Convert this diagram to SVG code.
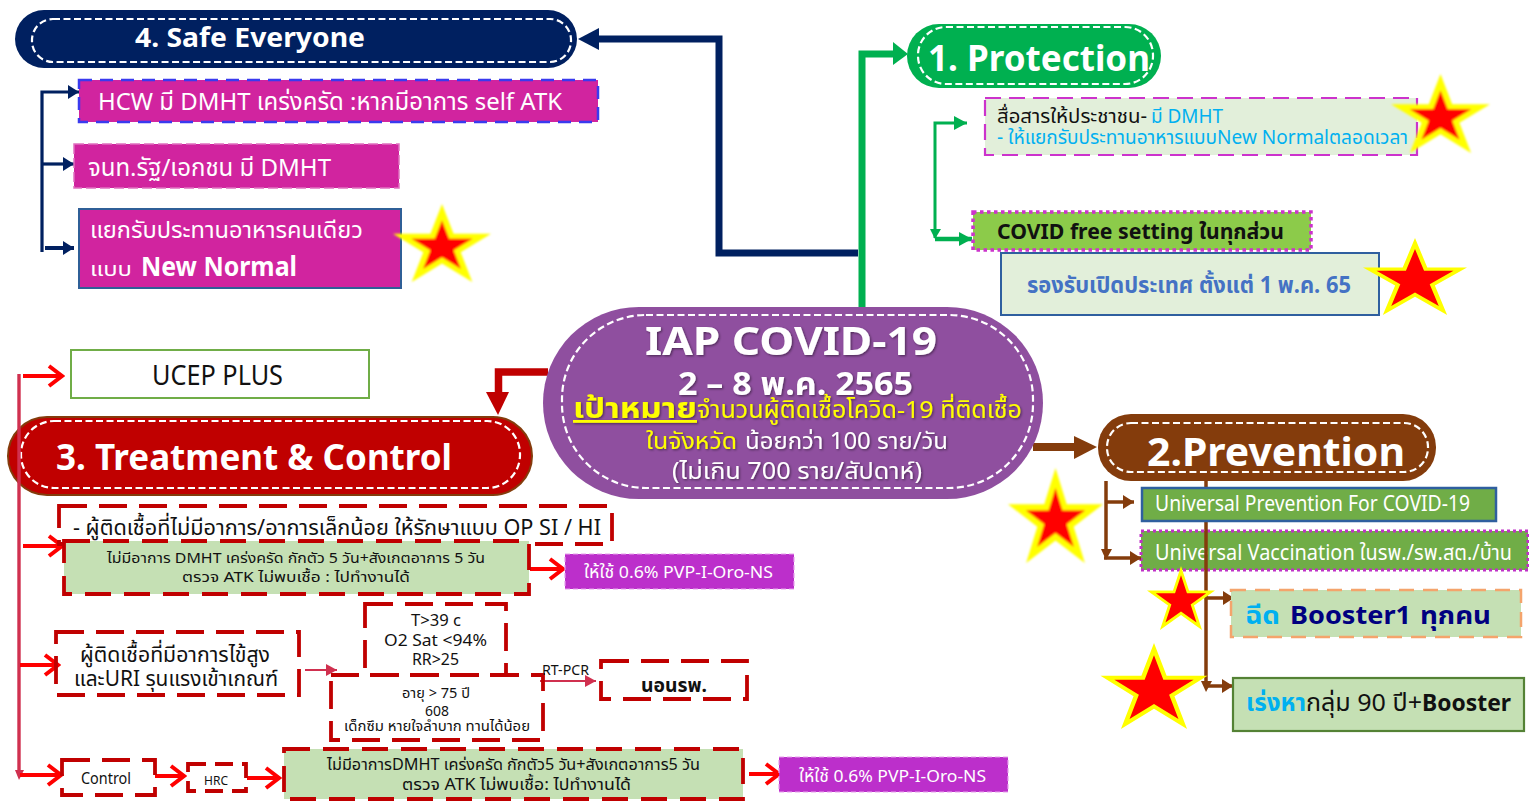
<svg xmlns="http://www.w3.org/2000/svg" xmlns:xlink="http://www.w3.org/1999/xlink" width="1529" height="811" viewBox="0 0 1529 811">
<style>
text{font-family:"Noto Sans","Noto Sans Thai","Liberation Sans","DejaVu Sans",sans-serif;fill:#111}
.w{fill:#fff}.b{font-weight:700}.y{fill:#ff0}.c{fill:#00b0f0}
.sh{filter:url(#ts)}
.in{fill:none;stroke:#fff;stroke-width:2.2;stroke-dasharray:7 3.5}
.rd{fill:none;stroke:#c00000;stroke-width:3.8;stroke-dasharray:28 12}
.rg{fill:#c5e0b4;stroke:#c00000;stroke-width:3.8;stroke-dasharray:26 13}
.mg{fill:#bc2fcb;stroke:#e8a0ee;stroke-width:1.2;stroke-dasharray:5 3}
.pk{fill:#d1249f}
.ar{fill:none;stroke:#f00;stroke-width:4}
.ln{fill:none;stroke-linejoin:miter}
</style>
<defs>
<filter id="ts" x="-5%" y="-20%" width="110%" height="140%"><feDropShadow dx="1.200" dy="1.200" stdDeviation=".8" flood-color="#000" flood-opacity=".45"/></filter>
<filter id="soft" x="-10%" y="-10%" width="120%" height="120%"><feGaussianBlur stdDeviation=".9"/></filter>
<polygon id="st" points="0,0 .118,.382 .5,.382 .191,.618 .309,1 0,.764 -.309,1 -.191,.618 -.5,.382 -.118,.382"/>
<g id="starA"><use xlink:href="#st" href="#st" fill="#ff0"/><use xlink:href="#st" href="#st" fill="#f00" transform="translate(0,.553) scale(.62) translate(0,-.553)"/></g>
<g id="starB"><use xlink:href="#st" href="#st" fill="#ff0"/><use xlink:href="#st" href="#st" fill="#f00" transform="translate(0,.553) scale(.74) translate(0,-.553)"/></g>
<marker id="op" markerUnits="userSpaceOnUse" markerWidth="18" markerHeight="26" refX="15" refY="13" orient="auto"><path d="M2 3L15 13L2 23" fill="none" stroke="#f00" stroke-width="4"/></marker>
<marker id="pk" markerUnits="userSpaceOnUse" markerWidth="12" markerHeight="14" refX="11" refY="7" orient="auto"><path d="M0 1L11 7L0 13z" fill="#d0304f"/></marker>
<marker id="nv" markerUnits="userSpaceOnUse" markerWidth="12" markerHeight="16" refX="11" refY="8" orient="auto"><path d="M0 1L11 8L0 15z" fill="#002060"/></marker>
<marker id="gr" markerUnits="userSpaceOnUse" markerWidth="14" markerHeight="16" refX="13" refY="8" orient="auto"><path d="M0 1L13 8L0 15z" fill="#00b050"/></marker>
<marker id="br" markerUnits="userSpaceOnUse" markerWidth="12" markerHeight="16" refX="11" refY="8" orient="auto"><path d="M0 1L11 8L0 15z" fill="#843c0c"/></marker>
</defs>

<g id="n-vaccination"><rect x="1141" y="531" width="387" height="39" fill="#70ad47" stroke="#c030c8" stroke-width="3" stroke-dasharray="3 3"/><text class="w" x="1155" y="560" font-size="22" textLength="357" lengthAdjust="spacingAndGlyphs">Universal Vaccination ในรพ./รพ.สต./บ้าน</text></g>
<g id="n-treat"><rect x="8" y="417" width="524" height="78" rx="39" fill="#c00000" stroke="#843c0c" stroke-width="2"/><rect class="in" x="21" y="421" width="499" height="67" rx="33"/><text class="w b" x="56" y="470" font-size="36" textLength="396" lengthAdjust="spacingAndGlyphs">3. Treatment &amp; Control</text></g>

<g id="connectors">
<path class="ln" d="M862 310V54H895" stroke="#00b050" stroke-width="7"/><path d="M893 42L908 54L893 65z" fill="#00b050"/>
<path class="ln" d="M858 253H719V39H597" stroke="#002060" stroke-width="7"/><path d="M578 39L599 28V50z" fill="#002060"/>
<path class="ln" d="M548 372H498.500V394" stroke="#c00000" stroke-width="7.500"/><path d="M486 392H509L498 415z" fill="#c00000"/>
<path class="ln" d="M1033 447H1076" stroke="#843c0c" stroke-width="8"/><path d="M1074 436L1097 447L1074 459z" fill="#843c0c"/>
<path class="ln" d="M42 252V92H79" stroke="#002060" stroke-width="3.200" marker-end="url(#nv)"/>
<path class="ln" d="M42 164H74" stroke="#002060" stroke-width="3.200" marker-end="url(#nv)"/>
<path class="ln" d="M45 248H74" stroke="#002060" stroke-width="4" marker-end="url(#nv)"/>
<path class="ln" d="M935 238V123H967" stroke="#00b050" stroke-width="3" marker-end="url(#gr)"/>
<path class="ln" d="M935 239H972" stroke="#00b050" stroke-width="4.500" marker-end="url(#gr)"/>
<path d="M930 229H941L935 239z" fill="#00b050"/>
<path class="ln" d="M1106 481V552" stroke="#843c0c" stroke-width="3.500"/><path d="M1101 549H1112L1106 560z" fill="#843c0c"/>
<path class="ln" d="M1106 502H1134" stroke="#843c0c" stroke-width="3.500" marker-end="url(#br)"/>
<path class="ln" d="M1104 558H1141" stroke="#843c0c" stroke-width="3.500" marker-end="url(#br)"/>
<path class="ln" d="M1206 481V684" stroke="#843c0c" stroke-width="3.500"/><path d="M1201 681H1212L1206 692z" fill="#843c0c"/>
<path class="ln" d="M1206 598H1234" stroke="#843c0c" stroke-width="3.500" marker-end="url(#br)"/>
<path class="ln" d="M1206 686H1233" stroke="#843c0c" stroke-width="3.500" marker-end="url(#br)"/>
<path class="ln" d="M19 374V772" stroke="#d0304f" stroke-width="3.400"/><path d="M15 770H24L19 780z" fill="#d0304f"/>
<path class="ar" d="M23 376H62" marker-end="url(#op)"/>
<path class="ar" d="M23 546H62" marker-end="url(#op)"/>
<path class="ar" d="M20 665H58" marker-end="url(#op)"/>
<path class="ar" d="M20 775H61" marker-end="url(#op)"/>
<path class="ar" d="M530 569H563" marker-end="url(#op)"/>
<path class="ar" d="M155 776H184" marker-end="url(#op)"/>
<path class="ar" d="M247 778H279" marker-end="url(#op)"/>
<path class="ar" d="M749 774H779" marker-end="url(#op)"/>
<path d="M305 670H337" class="ln" stroke="#d0304f" stroke-width="2" marker-end="url(#pk)"/>
<path d="M540 681H596" class="ln" stroke="#d0304f" stroke-width="2" marker-end="url(#pk)"/>
</g>

<g id="n-center"><rect x="543" y="307" width="500" height="192" rx="96" fill="#8f4f9f"/><rect class="in" x="562" y="315" width="471" height="173" rx="84"/>
<text class="w b sh" x="645" y="355" font-size="40" textLength="292" lengthAdjust="spacingAndGlyphs">IAP COVID-19</text>
<text class="w b sh" x="678" y="395" font-size="32" textLength="235" lengthAdjust="spacingAndGlyphs">2 – 8 พ.ค. 2565</text>
<text class="y b sh" x="573" y="418" font-size="28" text-decoration="underline" textLength="124" lengthAdjust="spacingAndGlyphs">เป้าหมาย</text>
<text class="y sh" x="697" y="418" font-size="24" textLength="325" lengthAdjust="spacingAndGlyphs">จำนวนผู้ติดเชื้อโควิด-19 ที่ติดเชื้อ</text>
<text class="y sh" x="646" y="449" font-size="23" textLength="91" lengthAdjust="spacingAndGlyphs">ในจังหวัด</text>
<text class="w sh" x="745" y="449" font-size="23" textLength="203" lengthAdjust="spacingAndGlyphs">น้อยกว่า 100 ราย/วัน</text>
<text class="w sh" x="672" y="479" font-size="23" textLength="250" lengthAdjust="spacingAndGlyphs">(ไม่เกิน 700 ราย/สัปดาห์)</text></g>

<g id="n-safe"><rect x="15" y="10" width="562" height="58" rx="29" fill="#002060"/><rect class="in" x="32" y="19" width="539" height="43" rx="21"/><text class="w b" x="135" y="47" font-size="27" textLength="230" lengthAdjust="spacingAndGlyphs">4. Safe Everyone</text></g>
<g id="n-hcw"><rect class="pk" x="79" y="80" width="519" height="42" stroke="#3a3aee" stroke-width="2.500" stroke-dasharray="13 8"/><text class="w" x="98" y="110" font-size="24" textLength="464" lengthAdjust="spacingAndGlyphs">HCW มี DMHT เคร่งครัด :หากมีอาการ self ATK</text></g>
<g id="n-staff"><rect class="pk" x="74" y="144" width="325" height="44" stroke="#e070c0" stroke-width="1.500" stroke-dasharray="10 4"/><text class="w" x="88" y="176" font-size="24" textLength="243" lengthAdjust="spacingAndGlyphs">จนท.รัฐ/เอกชน มี DMHT</text></g>
<g id="n-food"><rect class="pk" x="79" y="209" width="322" height="79" stroke="#2f5f97" stroke-width="2"/><text class="w" x="90" y="238" font-size="23" textLength="273" lengthAdjust="spacingAndGlyphs">แยกรับประทานอาหารคนเดียว</text><text class="w" x="90" y="276" font-size="20" textLength="42" lengthAdjust="spacingAndGlyphs">แบบ</text><text class="w b" x="141" y="276" font-size="26" textLength="156" lengthAdjust="spacingAndGlyphs">New Normal</text></g>

<g id="n-protect"><rect x="907" y="24" width="254" height="64" rx="32" fill="#00b050"/><rect class="in" x="918" y="27" width="235" height="57" rx="28"/><text class="w b" x="928" y="71" font-size="36" textLength="222" lengthAdjust="spacingAndGlyphs">1. Protection</text></g>
<g id="n-comm"><rect x="985" y="98" width="432" height="57" fill="#e2efda" stroke="#cc33cc" stroke-width="2.200" stroke-dasharray="16 8"/><text x="997" y="123" font-size="19" textLength="150" lengthAdjust="spacingAndGlyphs">สื่อสารให้ประชาชน-</text><text class="c" x="1151" y="123" font-size="19" textLength="72" lengthAdjust="spacingAndGlyphs">มี DMHT</text><text class="c" x="997" y="144" font-size="19" textLength="411" lengthAdjust="spacingAndGlyphs">- ให้แยกรับประทานอาหารแบบNew Normalตลอดเวลา</text></g>
<g id="n-free"><rect x="973" y="212" width="338" height="38" fill="#8ccb4a" stroke="#cc33cc" stroke-width="3.500" stroke-dasharray="3.500 3.500"/><text class="b" x="997" y="239" font-size="21" textLength="287" lengthAdjust="spacingAndGlyphs">COVID free setting ในทุกส่วน</text></g>
<g id="n-open"><rect x="1001" y="253" width="378" height="62" fill="#e2efda" stroke="#2f5f9f" stroke-width="2"/><text class="b" x="1027" y="293" font-size="23" textLength="324" lengthAdjust="spacingAndGlyphs" style="fill:#4472c4">รองรับเปิดประเทศ ตั้งแต่ 1 พ.ค. 65</text></g>

<g id="n-prevent"><rect x="1098" y="414" width="338" height="67" rx="33" fill="#843c0c"/><rect class="in" x="1107" y="423" width="321" height="49" rx="24"/><text class="w b" x="1147" y="466" font-size="40" textLength="258" lengthAdjust="spacingAndGlyphs">2.Prevention</text></g>
<g id="n-universal"><rect x="1142" y="488" width="354" height="33" fill="#70ad47" stroke="#2f5f9f" stroke-width="2.500"/><text class="w" x="1155" y="511" font-size="22" textLength="315" lengthAdjust="spacingAndGlyphs">Universal Prevention For COVID-19</text></g>
<g id="n-booster"><rect x="1231" y="590" width="290" height="47" fill="#c5e0b4" stroke="#f4a46c" stroke-width="2.500" stroke-dasharray="15 9"/><text class="b c" x="1245" y="624" font-size="25" textLength="35" lengthAdjust="spacingAndGlyphs">ฉีด</text><text class="b" x="1290" y="624" font-size="25" textLength="121" lengthAdjust="spacingAndGlyphs" style="fill:#000080">Booster1</text><text class="b" x="1420" y="624" font-size="25" textLength="71" lengthAdjust="spacingAndGlyphs" style="fill:#000080">ทุกคน</text></g>
<g id="n-elder"><rect x="1233" y="678" width="291" height="53" fill="#c5e0b4" stroke="#548235" stroke-width="2.200"/><text class="b c" x="1246" y="711" font-size="24" textLength="60" lengthAdjust="spacingAndGlyphs">เร่งหา</text><text x="1306" y="711" font-size="24" textLength="116" lengthAdjust="spacingAndGlyphs">กลุ่ม 90 ปี+</text><text class="b" x="1422" y="711" font-size="24" textLength="89" lengthAdjust="spacingAndGlyphs">Booster</text></g>

<g id="n-ucep"><rect x="71" y="350" width="298" height="48" fill="#fff" stroke="#70ad47" stroke-width="2"/><text x="152" y="385" font-size="27" textLength="131" lengthAdjust="spacingAndGlyphs">UCEP PLUS</text></g>
<g id="n-mild"><rect class="rd" x="59" y="506" width="553" height="38"/><text x="73" y="535" font-size="22" textLength="528" lengthAdjust="spacingAndGlyphs">- ผู้ติดเชื้อที่ไม่มีอาการ/อาการเล็กน้อย ให้รักษาแบบ OP SI / HI</text></g>
<g id="n-iso"><rect class="rg" x="64" y="541" width="465" height="53"/><text x="107" y="563" font-size="14" textLength="378" lengthAdjust="spacingAndGlyphs">ไม่มีอาการ DMHT เคร่งครัด กักตัว 5 วัน+สังเกตอาการ 5 วัน</text><text x="182" y="582" font-size="14" textLength="228" lengthAdjust="spacingAndGlyphs">ตรวจ ATK ไม่พบเชื้อ : ไปทำงานได้</text></g>
<g id="n-pvp1"><rect class="mg" x="565" y="554" width="229" height="35"/><text class="w" x="584" y="578" font-size="17" textLength="189" lengthAdjust="spacingAndGlyphs">ให้ใช้ 0.6% PVP-I-Oro-NS</text></g>
<g id="n-severe"><rect class="rd" x="56" y="632" width="243" height="63"/><text x="80" y="662" font-size="22" textLength="190" lengthAdjust="spacingAndGlyphs">ผู้ติดเชื้อที่มีอาการไข้สูง</text><text x="74" y="686" font-size="22" textLength="204" lengthAdjust="spacingAndGlyphs">และURI รุนแรงเข้าเกณฑ์</text></g>
<g id="n-vitals"><rect class="rd" x="365" y="604" width="141" height="71"/><text x="411" y="626" font-size="17" textLength="50" lengthAdjust="spacingAndGlyphs">T&gt;39 c</text><text x="384" y="646" font-size="17" textLength="103" lengthAdjust="spacingAndGlyphs">O2 Sat &lt;94%</text><text x="412" y="665" font-size="17" textLength="47" lengthAdjust="spacingAndGlyphs">RR&gt;25</text></g>
<g id="n-risk"><rect class="rd" x="331" y="675" width="212" height="65"/><text x="402" y="698" font-size="14" textLength="68" lengthAdjust="spacingAndGlyphs">อายุ &gt; 75 ปี</text><text x="425" y="716" font-size="15" textLength="24" lengthAdjust="spacingAndGlyphs">608</text><text x="344" y="731" font-size="14" textLength="186" lengthAdjust="spacingAndGlyphs">เด็กซึม หายใจลำบาก ทานได้น้อย</text></g>
<text id="l-rtpcr" x="542" y="675" font-size="14" textLength="47" lengthAdjust="spacingAndGlyphs">RT-PCR</text>
<g id="n-admit"><rect class="rd" x="601" y="661" width="146" height="38"/><text class="b" x="641" y="692" font-size="20" textLength="66" lengthAdjust="spacingAndGlyphs">นอนรพ.</text></g>
<g id="n-control"><rect class="rd" x="62" y="760" width="93" height="35"/><text x="81" y="784" font-size="16" textLength="50" lengthAdjust="spacingAndGlyphs">Control</text></g>
<g id="n-hrc"><rect class="rd" x="188" y="764" width="58" height="27" style="stroke-dasharray:18 9"/><text x="204" y="785" font-size="12" textLength="24" lengthAdjust="spacingAndGlyphs">HRC</text></g>
<g id="n-iso2"><rect class="rg" x="284" y="749" width="459" height="50"/><text x="327" y="770" font-size="16" textLength="373" lengthAdjust="spacingAndGlyphs">ไม่มีอาการDMHT เคร่งครัด กักตัว5 วัน+สังเกตอาการ5 วัน</text><text x="402" y="790" font-size="16" textLength="229" lengthAdjust="spacingAndGlyphs">ตรวจ ATK ไม่พบเชื้อ: ไปทำงานได้</text></g>
<g id="n-pvp2"><rect class="mg" x="779" y="757" width="229" height="35"/><text class="w" x="799" y="782" font-size="17" textLength="187" lengthAdjust="spacingAndGlyphs">ให้ใช้ 0.6% PVP-I-Oro-NS</text></g>

<g id="stars">
<g filter="url(#soft)"><use xlink:href="#starA" href="#starA" transform="translate(442,204) scale(98,78)"/></g>
<g filter="url(#soft)"><use xlink:href="#starA" href="#starA" transform="translate(1440.500,74) scale(99,79)"/></g>
<use xlink:href="#starB" href="#starB" transform="translate(1415,238) scale(104,77)"/>
<g filter="url(#soft)"><use xlink:href="#starA" href="#starA" transform="translate(1055.500,468) scale(95,95)"/></g>
<use xlink:href="#starB" href="#starB" transform="translate(1181,566) scale(68,64)"/>
<use xlink:href="#starB" href="#starB" transform="translate(1154,643) scale(107,86)"/>
</g>
</svg>
